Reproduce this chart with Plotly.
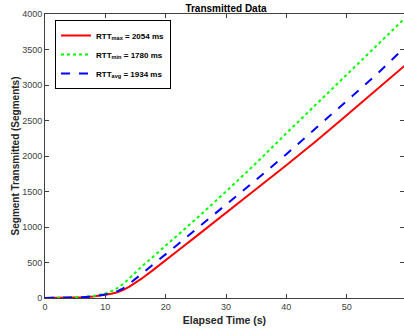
import plotly.graph_objects as go

time_s = [0, 2, 4, 6, 8, 10, 11, 12, 13, 14, 15, 16, 18, 20, 22, 25, 30, 35, 40, 45, 50, 55, 60]
rtt_max = [0, 1, 4, 10, 22, 45, 60, 82, 115, 160, 210, 272, 400, 528, 665, 865, 1205, 1535, 1870, 2215, 2575, 2940, 3300]
rtt_min = [0, 2, 5, 12, 28, 62, 95, 140, 200, 275, 360, 440, 590, 740, 890, 1110, 1500, 1900, 2320, 2735, 3150, 3560, 3970]
rtt_avg = [0, 1, 4, 10, 22, 48, 65, 95, 140, 200, 268, 345, 480, 615, 755, 965, 1310, 1665, 2025, 2400, 2770, 3150, 3560]

names = ["RTT<sub>max</sub> = 2054 ms", "RTT<sub>min</sub> = 1780 ms", "RTT<sub>avg</sub> = 1934 ms"]
x_ticks = [0, 10, 20, 30, 40, 50, 60]
y_ticks = [0, 500, 1000, 1500, 2000, 2500, 3000, 3500, 4000]

axis_col = "#404040"
fig = go.Figure()
fig.add_trace(go.Scatter(x=time_s, y=rtt_max, mode="lines", name=names[0],
                         line=dict(color="#ff0000", width=2, dash="solid")))
fig.add_trace(go.Scatter(x=time_s, y=rtt_min, mode="lines", name=names[1],
                         line=dict(color="#00ff00", width=2, dash="dot")))
fig.add_trace(go.Scatter(x=time_s, y=rtt_avg, mode="lines", name=names[2],
                         line=dict(color="#0000ff", width=2, dash="dash")))

fig.update_layout(
    width=404, height=331,
    margin=dict(l=45, r=0, t=14, b=33),
    plot_bgcolor="white", paper_bgcolor="white",
    font=dict(family="Liberation Sans, Arial, sans-serif", color=axis_col, size=9),
    title=dict(text="<b>Transmitted Data</b>", x=226/404, xanchor="center",
               yref="container", y=1 - 8/331, yanchor="middle",
               font=dict(size=10, color="black")),
    legend=dict(x=10/359, y=1 - 6/284, xanchor="left", yanchor="top",
                bgcolor="white", bordercolor="black", borderwidth=1,
                font=dict(size=8, color="black", weight="bold"),
                tracegroupgap=0, itemwidth=30),
    showlegend=True,
)
fig.update_xaxes(range=[0, 59.5], tickvals=x_ticks, ticks="inside", ticklen=4,
                 tickcolor=axis_col, showline=True, linecolor=axis_col, linewidth=1,
                 mirror="ticks", showgrid=False, zeroline=False,
                 title=dict(text="<b>Elapsed Time (s)</b>", font=dict(size=10.5, color="#262626"), standoff=5))
fig.update_yaxes(range=[0, 4000], tickvals=y_ticks, ticks="inside", ticklen=4,
                 tickcolor=axis_col, showline=True, linecolor=axis_col, linewidth=1,
                 mirror="ticks", showgrid=False, zeroline=False,
                 title=dict(text="<b>Segment Transmitted (Segments)</b>", font=dict(size=10, color="#262626"), standoff=0))

fig.write_html("out.html")
